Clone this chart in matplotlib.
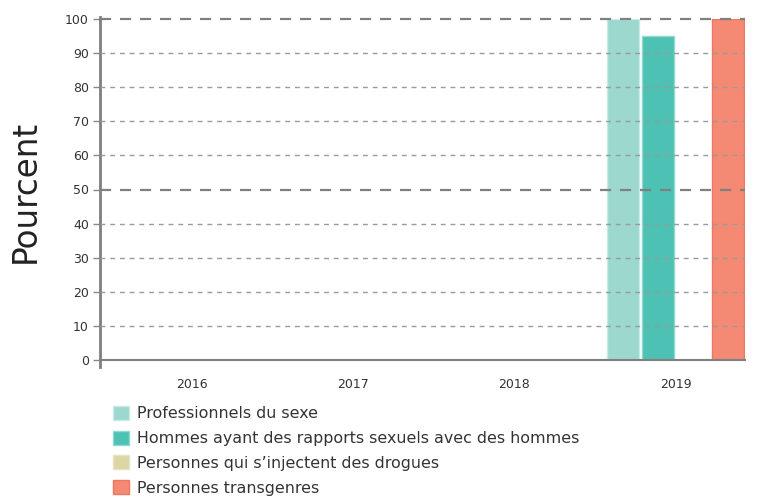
import numpy as np
import matplotlib.pyplot as plt
from matplotlib.patches import Patch

years = ["2016", "2017", "2018", "2019"]
series = ["Professionnels du sexe",
          "Hommes ayant des rapports sexuels avec des hommes",
          "Personnes qui s\u2019injectent des drogues",
          "Personnes transgenres"]
values = [
    [np.nan, np.nan, np.nan, 100],
    [np.nan, np.nan, np.nan, 95],
    [np.nan, np.nan, np.nan, np.nan],
    [np.nan, np.nan, np.nan, 100],
]
colors = ["#9dd8cf", "#4dc1b3", "#dbd6a3", "#f48a74"]
edges = ["#c8ebe6", "#8fd9cf", "#e8e4c2", "#ee7760"]
yticks = [0, 10, 20, 30, 40, 50, 60, 70, 80, 90, 100]

fig = plt.figure(figsize=(7.62, 4.97), dpi=100)
ax = fig.add_axes([100/762, 1-360/497, 645/762, 341/497])

x = np.arange(len(years))
w = 0.2
step = 0.217
for i, (vals, c, e) in enumerate(zip(values, colors, edges)):
    ax.bar(x + (i - 1.5) * step, vals, width=w, color=c, edgecolor=e,
           linewidth=1, zorder=2)

ax.set_xlim(-0.57, 3.43)
ax.set_ylim(0, 100)
ax.set_xticks(x)
ax.set_xticklabels(years)
ax.set_yticks(yticks)
ax.tick_params(axis="x", length=0, pad=13, labelsize=9, labelcolor="#333333")
ax.tick_params(axis="y", length=5, width=1, color="#888888", labelsize=9,
               labelcolor="#333333", pad=3)

for t in yticks[1:]:
    if t in (50, 100):
        ax.axhline(t, color="#808080", lw=1.6, ls=(0, (5, 4)), zorder=3, clip_on=False)
    else:
        ax.axhline(t, color="#9a9a9a", lw=1, ls=(0, (3.5, 3.5)), zorder=3)

for s in ["top", "right"]:
    ax.spines[s].set_visible(False)
ax.spines["left"].set_color("#7f7f7f")
ax.spines["left"].set_linewidth(2)
ax.spines["left"].set_bounds(-2, 100.5)
ax.spines["bottom"].set_color("#7f7f7f")
ax.spines["bottom"].set_linewidth(1.5)

fig.text(25/762, 1-191/497, "Pourcent", rotation=90, fontsize=23.5,
         color="#222222", ha="center", va="center")

handles = [Patch(facecolor=c, edgecolor=e) for c, e in zip(colors, edges)]
fig.legend(handles, series, loc="upper left", bbox_to_anchor=(105/762, 1-398/497),
           frameon=False, fontsize=11.4, labelcolor="#333333",
           handlelength=1.0, handleheight=1.0, handletextpad=0.55,
           labelspacing=0.58, borderpad=0)

fig.savefig("out.png", dpi=100)
